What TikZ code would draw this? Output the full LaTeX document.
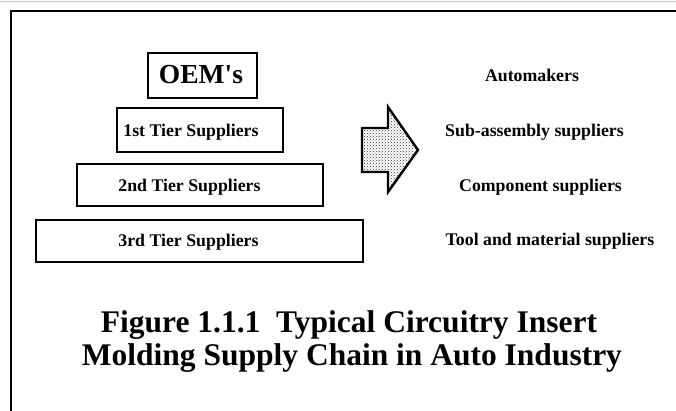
\documentclass[tikz,border=0pt]{standalone}
\usepackage{fontspec}
\setmainfont{Liberation Serif}[Ligatures=TeXOff]
\usetikzlibrary{patterns}
\begin{document}
\begin{tikzpicture}[x=1pt,y=-1pt,
  tierbox/.style={draw,line width=2pt,inner sep=0pt},
  tierlabel/.style={font=\fontsize{17.8}{20}\selectfont\bfseries,inner sep=0pt,anchor=base},
  rolelabel/.style={font=\fontsize{17.8}{20}\selectfont\bfseries,inner sep=0pt,anchor=base},
  titleline/.style={font=\fontsize{31.5}{36}\selectfont\bfseries,inner sep=0pt,anchor=base},
  frameline/.style={line width=2pt}]
\useasboundingbox (0,0) rectangle (676,411);

% page frame
\draw[gray!45,line width=0.6pt] (0,1) -- (676,1);
\draw[frameline] (676,11) -- (11,11) -- (11,411);

% pyramid of tiers
\node[tierbox,minimum width=109pt,minimum height=45pt] (oem) at (202,75.5) {};
\node[tierlabel,font=\fontsize{27.5}{30}\selectfont\bfseries] (oemtxt) at (201,84) {OEM's};

\node[tierbox,minimum width=166pt,minimum height=44pt] (t1) at (200,130) {};
\node[tierlabel] (t1txt) at (191,137) {1st Tier Suppliers};

\node[tierbox,minimum width=246pt,minimum height=42pt] (t2) at (200,185) {};
\node[tierlabel] (t2txt) at (189.5,192) {2nd Tier Suppliers};

\node[tierbox,minimum width=327pt,minimum height=42pt] (t3) at (199.5,241) {};
\node[tierlabel] (t3txt) at (188.5,247) {3rd Tier Suppliers};

% block arrow
\path[fill=black!8,pattern=crosshatch dots,pattern color=black!80]
  (362,128) -- (388,128) -- (388,107) -- (418,150) -- (388,192) -- (388,172) -- (362,172) -- cycle;
\draw[line width=2.4pt,line join=miter]
  (362,128) -- (388,128) -- (388,107) -- (418,150) -- (388,192) -- (388,172) -- (362,172) -- cycle;

% roles of each tier
\node[rolelabel] (r0) at (532,82) {Automakers};
\node[rolelabel] (r1) at (534.5,137) {Sub-assembly suppliers};
\node[rolelabel] (r2) at (540.5,192) {Component suppliers};
\node[rolelabel] (r3) at (550,246) {Tool and material suppliers};

% caption
\node[titleline] (cap1) at (349,332) {Figure 1.1.1\ \ Typical Circuitry Insert};
\node[titleline] (cap2) at (352,365) {Molding Supply Chain in Auto Industry};
\end{tikzpicture}
\end{document}
